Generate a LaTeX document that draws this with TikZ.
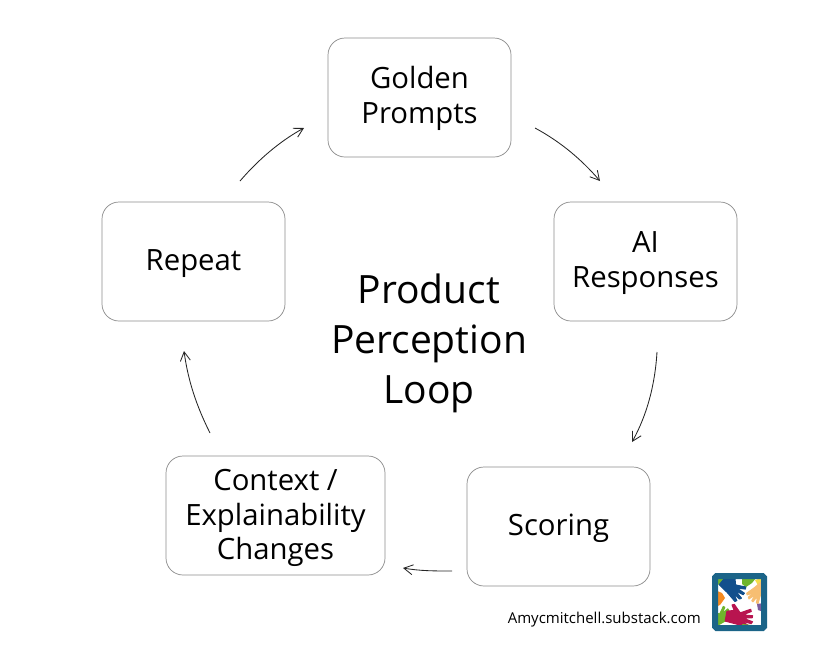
\documentclass[tikz,border=0pt]{standalone}
\usepackage{fontspec}
\setmainfont{Open Sans}
\usetikzlibrary{arrows.meta}
\definecolor{edgegrey}{HTML}{8A8A8A}
\definecolor{frameblue}{HTML}{1B6488}
\definecolor{handblue}{HTML}{124F8C}
\definecolor{handred}{HTML}{B8144F}
\definecolor{handgreen}{HTML}{6FB52C}
\definecolor{handorange}{HTML}{F58A1F}
\definecolor{handpeach}{HTML}{F7BE72}
\definecolor{handyellow}{HTML}{F4DC4A}
\definecolor{handpurple}{HTML}{7B5C9E}
\newcommand{\liftline}[1]{\rule{0pt}{#1pt}}
\tikzset{
  loopbox/.style={draw=edgegrey,line width=0.7pt,rounded corners=17pt,align=center,font=\fontsize{29.3}{34.5}\selectfont,inner sep=0pt,minimum height=119pt},
  looparrow/.style={draw=black!85,line width=0.85pt,-{Straight Barb[length=9pt,width=10pt,line width=0.85pt]}},
  hand/.pic={
    \filldraw[line width=1.1pt,line join=round] (-5,-5) -- (5,-5) -- (7,2) -- (12,-1) -- (13,1) -- (6,8) -- (6,9) -- (11,18) -- (9,19) -- (4,11) -- (5,21) -- (3,21) -- (1,12) -- (-1,22) -- (-3,21) -- (-2,11) -- (-6,20) -- (-8,19) -- (-6,7) -- cycle;
  }
}
\begin{document}
\begin{tikzpicture}[x=1pt,y=-1pt]
\useasboundingbox (0,0) rectangle (823,646);
\node[loopbox,minimum width=183pt] (gp) at (419.5,97.5) {\liftline{24.5}Golden\\Prompts};
\node[loopbox,minimum width=183pt] (ai) at (645.5,261.5) {\liftline{24.5}AI\\Responses};
\node[loopbox,minimum width=183pt] (sc) at (558.5,526.5) {\liftline{26}Scoring};
\node[loopbox,minimum width=219pt] (cx) at (275.5,515.5) {\liftline{27}Context /\\Explainability\\Changes};
\node[loopbox,minimum width=183pt] (rp) at (193.5,261.5) {\liftline{26}Repeat};
\node[align=center,font=\fontsize{39}{50}\selectfont,inner sep=0pt] (title) at (429,343) {Product\\Perception\\Loop};
\node[anchor=east,font=\fontsize{15}{18}\selectfont,inner sep=0pt] (credit) at (701,620) {Amycmitchell.substack.com};
\coordinate (a1s) at (535,128); \coordinate (a1e) at (600,181);
\coordinate (a2s) at (657,352); \coordinate (a2e) at (632,442);
\coordinate (a3s) at (452,571); \coordinate (a3e) at (403,568);
\coordinate (a4s) at (210,433); \coordinate (a4e) at (184,351);
\coordinate (a5s) at (240,181); \coordinate (a5e) at (304,128);
\draw[looparrow] (a1s) .. controls (561,142) and (582,160) .. (a1e);
\draw[looparrow] (a2s) .. controls (655,385) and (647,415) .. (a2e);
\draw[looparrow] (a3s) .. controls (435,571) and (420,571) .. (a3e);
\draw[looparrow] (a4s) .. controls (196,405) and (188,380) .. (a4e);
\draw[looparrow] (a5s) .. controls (258,160) and (280,141) .. (a5e);
% logo
\begin{scope}
\path[clip] (715,576) rectangle (764,628);
\fill[white] (715,576) rectangle (764,628);
\fill[handyellow] (755,580) -- (764,577) -- (764,590) -- (760,589) -- cycle;
\fill[handgreen] (715,578) -- (726,578) -- (722,586) -- (717,584) -- cycle;
\fill[handgreen] (742,578) -- (756,578) -- (752,583) -- (746,587) -- (742,584) -- cycle;
\fill[handorange] (715,590) -- (722,593) -- (725,598) -- (720,605) -- (715,607) -- cycle;
\pic[handgreen,draw=handgreen,fill=handgreen,scale=0.75,rotate=125] at (717,621) {hand};
\pic[handblue,draw=handblue,fill=handblue,scale=0.95,rotate=50] at (726,584) {hand};
\pic[handpeach,draw=handpeach,fill=handpeach,scale=0.8,rotate=-45] at (762,587) {hand};
\pic[handred,draw=handred,fill=handred,scale=1,rotate=80] at (731,617) {hand};
\fill[handpurple] (757,604) -- (764,603) -- (764,612) -- (758,610) -- cycle;
\fill[handgreen] (742,624) -- (752,625) -- (752,628) -- (744,628) -- cycle;
\end{scope}
\draw[frameblue,line width=6pt,rounded corners=1.5pt] (715,576) rectangle (764,628);
\end{tikzpicture}
\end{document}
